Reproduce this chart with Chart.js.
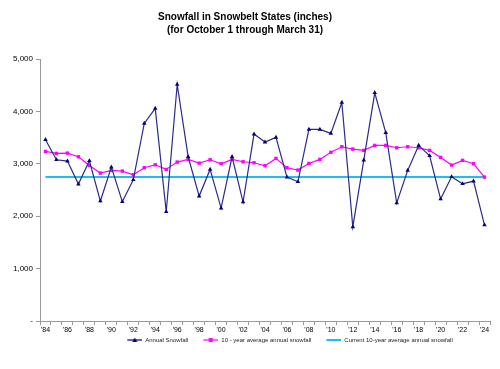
<!DOCTYPE html>
<html>
<head>
<meta charset="utf-8">
<script src="https://cdn.jsdelivr.net/npm/chart.js@4/dist/chart.umd.min.js"></script>
<style>
html,body{margin:0;padding:0;background:#fff;}
#wrap{width:500px;height:369px;}
</style>
</head>
<body>
<div id="wrap"><canvas id="c" width="500" height="369"></canvas></div>
<script>
const years = ["'84","'85","'86","'87","'88","'89","'90","'91","'92","'93","'94","'95","'96","'97","'98","'99","'00","'01","'02","'03","'04","'05","'06","'07","'08","'09","'10","'11","'12","'13","'14","'15","'16","'17","'18","'19","'20","'21","'22","'23","'24"];
const annualSnowfall = [3460,3077,3052,2613,3058,2289,2937,2276,2695,3770,4056,2085,4514,3134,2384,2893,2155,3134,2270,3567,3414,3503,2746,2657,3656,3656,3580,4170,1795,3070,4355,3595,2251,2874,3351,3153,2327,2753,2619,2670,1831];
const tenYearAverage = [3236,3198,3204,3134,2969,2823,2874,2861,2791,2925,2981,2893,3033,3084,3013,3077,3001,3084,3039,3020,2963,3103,2925,2880,3007,3084,3220,3325,3281,3256,3351,3351,3306,3325,3306,3256,3122,2975,3065,3001,2746];
const currentTenYearAverage = [2746,2746,2746,2746,2746,2746,2746,2746,2746,2746,2746,2746,2746,2746,2746,2746,2746,2746,2746,2746,2746,2746,2746,2746,2746,2746,2746,2746,2746,2746,2746,2746,2746,2746,2746,2746,2746,2746,2746,2746,2746];
const yTicks = [0,1000,2000,3000,4000,5000];

const NAVY = '#000080', PINK = '#FF00FF', CYAN = '#22BCF0';
const FONT = 'Liberation Sans, Arial, sans-serif';

function legendIcon(color, marker, lw){
  const c = document.createElement('canvas');
  c.width = 27; c.height = 8;
  const g = c.getContext('2d');
  const x0 = 12;
  g.strokeStyle = color; g.lineWidth = lw;
  g.beginPath(); g.moveTo(x0,4); g.lineTo(x0+15,4); g.stroke();
  g.fillStyle = color;
  if (marker === 'tri'){
    g.beginPath(); g.moveTo(x0+7.5,1.5); g.lineTo(x0+10,6); g.lineTo(x0+5,6); g.closePath(); g.fill();
  } else if (marker === 'sq'){
    g.fillRect(x0+5.5,2,4,4);
  }
  return c;
}

const shiftLegend = {
  id:'shiftLegend',
  afterLayout(chart){ const l = chart.legend; if(l){ l.left += 39; l.right += 39; } }
};

new Chart(document.getElementById('c'), {
  type: 'line',
  data: {
    labels: years,
    datasets: [
      {label:'Annual Snowfall', data: annualSnowfall, borderColor:'#2a2a8c', borderWidth:1.2,
       pointStyle:'triangle', pointRadius:2.6, pointBackgroundColor:NAVY, pointBorderColor:NAVY, pointBorderWidth:0,
       tension:0, order:1},
      {label:'10 - year average annual snowfall', data: tenYearAverage, borderColor:PINK, borderWidth:1.2,
       pointStyle:'rect', pointRadius:2.4, pointBackgroundColor:PINK, pointBorderColor:PINK, pointBorderWidth:0,
       tension:0, order:2},
      {label:'Current 10-year average annual snowfall', data: currentTenYearAverage, borderColor:CYAN, borderWidth:2,
       pointRadius:0, tension:0, order:3}
    ]
  },
  plugins:[shiftLegend],
  options: {
    responsive:false, animation:false, devicePixelRatio:1,
    layout:{padding:{left:0,right:10,top:0,bottom:16}},
    plugins:{
      title:{display:true, text:['Snowfall in Snowbelt States (inches)','(for October 1 through March 31)'],
        color:'#000', font:{family:FONT, size:10, weight:'bold', lineHeight:1.3},
        padding:{top:11,bottom:22}},
      legend:{display:true, position:'bottom',
        labels:{
          font:{family:FONT, size:6}, color:'#222',
          usePointStyle:true, pointStyleWidth:27, boxHeight:7, padding:3,
          generateLabels:(chart)=>{
            const icons=[legendIcon(NAVY,'tri',1.2),legendIcon(PINK,'sq',1.2),legendIcon(CYAN,null,2)];
            return chart.data.datasets.map((d,i)=>({text:d.label, pointStyle:icons[i], fillStyle:'#fff', strokeStyle:'#fff', lineWidth:0, datasetIndex:i, fontColor:'#222'}));
          }
        }},
      tooltip:{enabled:false}
    },
    scales:{
      x:{type:'category', offset:true,
        border:{color:'#9a9a9a', width:1},
        grid:{display:true, offset:true, drawOnChartArea:false, drawTicks:true, tickLength:4, color:'#9a9a9a'},
        ticks:{autoSkip:false, maxRotation:0, padding:1, color:'#000',
          font:{family:FONT, size:7},
          callback:function(v,i){ return i%2===0 ? years[i] : ''; }},
        afterFit:(s)=>{ s.height = 13; }
      },
      y:{min:0, max:5000,
        border:{color:'#9a9a9a', width:1},
        grid:{display:true, drawOnChartArea:false, drawTicks:true, tickLength:4, color:'#9a9a9a'},
        afterBuildTicks:(s)=>{ s.ticks = yTicks.map(v=>({value:v})); },
        ticks:{padding:3, color:'#000', font:{family:FONT, size:8},
          callback:(v)=> v===0 ? '-' : v.toLocaleString('en-US')},
        afterFit:(s)=>{ s.width = 40; }
      }
    }
  }
});
</script>
</body>
</html>
